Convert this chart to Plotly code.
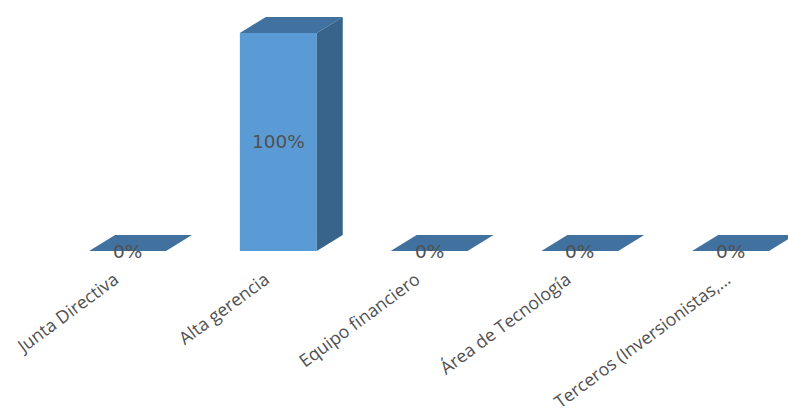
import plotly.graph_objects as go

categories = ["Junta Directiva", "Alta gerencia", "Equipo financiero", "Área de Tecnología", "Terceros (Inversionistas,..."]
shares = [0, 1, 0, 0, 0]
share_labels = ["0%", "100%", "0%", "0%", "0%"]

FRONT = "#5B9BD5"
TOP = "#41729F"
SIDE = "#38648B"
TEXT = "#505050"

# Pseudo-3D extrusion, expressed in axis units
BAR_WIDTH = 0.51
DEPTH_X = 0.1725
DEPTH_Y = 0.0734

positions = list(range(len(categories)))
half = BAR_WIDTH / 2

# The truncated last label sits a little further right than the others
tick_positions = positions[:-1] + [positions[-1] + 0.06]

fig = go.Figure()

fig.add_trace(go.Bar(
    x=positions, y=shares, width=BAR_WIDTH,
    marker=dict(color=FRONT, line=dict(width=0)),
    hoverinfo="skip", showlegend=False,
))


def face(xs, ys, color):
    fig.add_trace(go.Scatter(
        x=xs, y=ys, mode="lines", fill="toself", fillcolor=color,
        line=dict(width=0, color=color), hoverinfo="skip",
        showlegend=False, cliponaxis=False,
    ))


for pos, value in zip(positions, shares):
    left, right = pos - half, pos + half
    # top face
    face([left, right, right + DEPTH_X, left + DEPTH_X, left],
         [value, value, value + DEPTH_Y, value + DEPTH_Y, value], TOP)
    # side face, only visible on bars with height
    if value > 0:
        face([right, right + DEPTH_X, right + DEPTH_X, right, right],
             [0, DEPTH_Y, value + DEPTH_Y, value, 0], SIDE)

# Value labels centred on each bar's front face
for pos, value, label in zip(positions, shares, share_labels):
    fig.add_annotation(
        x=pos, y=value / 2, text=label, showarrow=False, yshift=0,
        font=dict(family="DejaVu Sans", size=18.5, color=TEXT),
    )

fig.update_layout(
    width=788, height=413,
    margin=dict(l=0, r=0, t=0, b=162),
    paper_bgcolor="white", plot_bgcolor="white",
    showlegend=False, barmode="overlay",
    xaxis=dict(
        range=[-0.846, 4.381], tickmode="array", tickvals=tick_positions, ticktext=categories,
        tickangle=-36.5, tickfont=dict(family="Open Sans", size=17.7, color=TEXT),
        showgrid=False, zeroline=False, showline=False, ticks="",
        ticklabelstandoff=14, ticklabelshift=-13, automargin=False,
    ),
    yaxis=dict(range=[0, 1.151], visible=False),
)

fig.write_html("out.html")
